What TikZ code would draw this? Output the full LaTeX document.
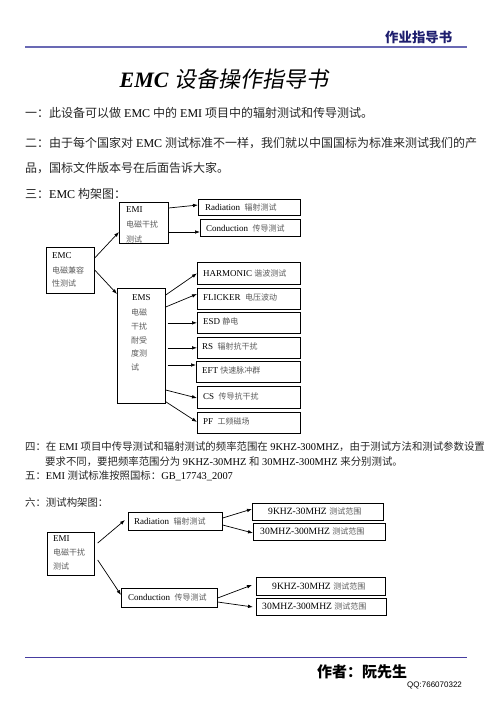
\documentclass[tikz,border=0pt]{standalone}
\usepackage{fontspec}
\setmainfont{Liberation Serif}
\newfontfamily\cjk{Noto Sans CJK SC}
\newfontfamily\cjkslant{Noto Sans CJK SC}[FakeSlant=0.18]
\newfontfamily\qqfont{Liberation Sans}
\usetikzlibrary{arrows.meta,calc}
\definecolor{hdrline}{RGB}{105,105,180}
\definecolor{ftrline}{RGB}{70,60,160}
\definecolor{hdrtext}{RGB}{30,30,110}
\newcommand{\zb}[1]{{\cjk\color{black!85}#1}}
\newcommand{\zs}[1]{{\cjk\fontsize{8}{9}\selectfont\color{black!65}#1}}
\newcommand{\mybox}[5]{\node[box, minimum width={(#4-#2)*1pt}, minimum height={(#5-#3)*1pt}] (#1) at (#2,#3) {};}
\tikzset{
  box/.style={draw, line width=0.7pt, inner sep=0pt, anchor=north west},
  arr/.style={-{Latex[length=5pt,width=3.6pt]}, line width=0.7pt},
  txt/.style={anchor=west, inner sep=0pt},
  body/.style={txt, font=\fontsize{12}{14}\selectfont},
  small/.style={txt, font=\fontsize{10.4}{12}\selectfont},
  bt/.style={txt, font=\fontsize{9}{10}\selectfont},
  bt2/.style={txt, font=\fontsize{9.6}{11}\selectfont},
}
\begin{document}
\begin{tikzpicture}[x=1pt,y=-1pt]
\useasboundingbox (0,0) rectangle (496,702);
% header
\coordinate (hl) at (25,46.5);
\coordinate (hr) at (467,46.5);
\draw[hdrline, line width=2pt] (hl) -- (hr);
\node[txt, font=\cjk\bfseries\fontsize{13.4}{15}\selectfont, text=hdrtext] (hdr) at (385,37) {作业指导书};
% title
\node[inner sep=0pt, font=\fontsize{22}{24}\selectfont] (title) at (224,79) {\textbf{\textit{EMC}} {\cjkslant 设备操作指导书}};
% body
\node[body] (l1) at (25,113) {\zb{一：此设备可以做} EMC \zb{中的} EMI \zb{项目中的辐射测试和传导测试。}};
\node[body] (l2) at (25,143) {\zb{二：由于每个国家对} EMC \zb{测试标准不一样，我们就以中国国标为标准来测试我们的产}};
\node[body] (l3) at (25,168) {\zb{品，国标文件版本号在后面告诉大家。}};
\node[body] (l4) at (25,194) {\zb{三：}EMC \zb{构架图：}};

% diagram 1 boxes
\mybox{emc}{46}{247}{94}{293}
\mybox{emi}{119}{202}{168}{243}
\mybox{ems}{117}{288}{165}{403}
\mybox{rad}{198}{199}{300}{215}
\mybox{con}{200}{219}{300}{236}
\mybox{har}{197}{262}{300}{284}
\mybox{fli}{197}{288}{300}{309}
\mybox{esd}{197}{312}{300}{333}
\mybox{rs}{197}{337}{300}{358}
\mybox{eft}{196}{361}{300}{382}
\mybox{cs}{197}{386}{300}{408}
\mybox{pf}{197}{412}{300}{433}

% diagram 1 texts
\node[bt] (emc1) at (52,256) {EMC};
\node[bt] (emc2) at (52,270) {\zs{电磁兼容}};
\node[bt] (emc3) at (52,283.5) {\zs{性测试}};
\node[bt] (emi1) at (126,210) {EMI};
\node[bt] (emi2) at (126,224.5) {\zs{电磁干扰}};
\node[bt] (emi3) at (126,239) {\zs{测试}};
\node[bt] (ems1) at (132,298) {EMS};
\node[bt] (ems2) at (131,312) {\zs{电磁}};
\node[bt] (ems3) at (131,326) {\zs{干扰}};
\node[bt] (ems4) at (131,340) {\zs{耐受}};
\node[bt] (ems5) at (131,353.5) {\zs{度测}};
\node[bt] (ems6) at (131,367) {\zs{试}};
\node[bt] (radt) at (205,207) {Radiation\ \ \zs{辐射测试}};
\node[bt] (cont) at (206,228) {Conduction\ \ \zs{传导测试}};
\node[bt] (hart) at (203,273) {HARMONIC \zs{谐波测试}};
\node[bt] (flit) at (203,297.5) {FLICKER\ \ \zs{电压波动}};
\node[bt] (esdt) at (203,321.5) {ESD \zs{静电}};
\node[bt] (rst) at (202,346.5) {RS\ \ \zs{辐射抗干扰}};
\node[bt] (eftt) at (202,370.5) {EFT \zs{快速脉冲群}};
\node[bt] (cst) at (203,396) {CS\ \ \zs{传导抗干扰}};
\node[bt] (pft) at (203,421.5) {PF\ \ \zs{工频磁场}};

% diagram 1 arrows
\draw[arr] ([yshift=-11pt]emc.north east) -- ([yshift=-30pt]emi.north west);
\draw[arr] ([yshift=-23pt]emc.north east) -- ([yshift=-6pt]ems.north west);
\draw[arr] ([yshift=-6pt]emi.north east) -- ([yshift=-6pt]rad.north west);
\draw[arr] ([yshift=-30pt]emi.north east) -- ([yshift=-13pt]con.north west);
\draw[arr] ([yshift=-7pt]ems.north east) -- (har.west);
\draw[arr] ([yshift=-19pt]ems.north east) -- ([yshift=-6pt]fli.north west);
\draw[arr] ([xshift=2pt]ems.east |- esd.west) -- (esd.west);
\draw[arr] ([xshift=2pt]ems.east |- rs.west) -- (rs.west);
\draw[arr] ([xshift=2pt,yshift=-77pt]ems.north east) -- ([yshift=-4pt]eft.north west);
\draw[arr] ([yshift=-102pt]ems.north east) -- ([yshift=-12pt]cs.north west);
\draw[arr] ([yshift=2pt]ems.south east) -- ([yshift=-10pt]pf.north west);

% section 4-6
\node[small] (l5) at (25,447) {\zb{四：在} EMI \zb{项目中传导测试和辐射测试的频率范围在} 9KHZ-300MHZ\zb{，由于测试方法和测试参数设置}};
\node[small] (l6) at (45,462) {\zb{要求不同，要把频率范围分为} 9KHZ-30MHZ \zb{和} 30MHZ-300MHZ \zb{来分别测试。}};
\node[small] (l7) at (25,476) {\zb{五：}EMI \zb{测试标准按照国标：}GB\_17743\_2007};
\node[small] (l8) at (25,503) {\zb{六：测试构架图：}};

% diagram 2 boxes
\mybox{emib}{47}{532}{94}{575}
\mybox{radb}{128}{512}{222}{530}
\mybox{conb}{121}{588}{217}{607}
\mybox{ra}{252}{503}{383}{520}
\mybox{rb}{253}{523}{385}{540}
\mybox{ca}{256}{577}{385}{595}
\mybox{cb}{256}{598}{386}{615}

% diagram 2 texts
\node[bt] (emib1) at (53,539) {EMI};
\node[bt] (emib2) at (53,552.5) {\zs{电磁干扰}};
\node[bt] (emib3) at (53,566) {\zs{测试}};
\node[bt] (radbt) at (134,521) {Radiation\ \ \zs{辐射测试}};
\node[bt] (conbt) at (128,597.5) {Conduction\ \ \zs{传导测试}};
\node[bt2] (rat) at (268,511.5) {9KHZ-30MHZ \zs{测试范围}};
\node[bt2] (rbt) at (260,531.5) {30MHZ-300MHZ \zs{测试范围}};
\node[bt2] (cat) at (272,586) {9KHZ-30MHZ \zs{测试范围}};
\node[bt2] (cbt) at (262,606.5) {30MHZ-300MHZ \zs{测试范围}};

% diagram 2 arrows
\draw[arr] ([xshift=3pt,yshift=-11pt]emib.north east) -- ([xshift=-3pt,yshift=-8pt]radb.north west);
\draw[arr] ([xshift=3pt,yshift=-28pt]emib.north east) -- ([yshift=-7pt]conb.north west);
\draw[arr] ([yshift=-6pt]radb.north east) -- ([yshift=-6pt]ra.north west);
\draw[arr] ([yshift=-13pt]radb.north east) -- ([yshift=-10pt]rb.north west);
\draw[arr] ([yshift=-10pt]conb.north east) -- ([xshift=-4pt,yshift=-8pt]ca.north west);
\draw[arr] ([yshift=-14pt]conb.north east) -- ([xshift=-3pt,yshift=-9pt]cb.north west);

% footer
\coordinate (fl) at (25,657);
\coordinate (fr) at (467,657);
\draw[ftrline, line width=1pt] (fl) -- (fr);
\node[txt, font=\cjk\bfseries\fontsize{15}{17}\selectfont] (author) at (317,672) {作者：阮先生};
\node[txt, font=\qqfont\fontsize{8}{9}\selectfont] (qq) at (407,685) {QQ:766070322};
\end{tikzpicture}
\end{document}
